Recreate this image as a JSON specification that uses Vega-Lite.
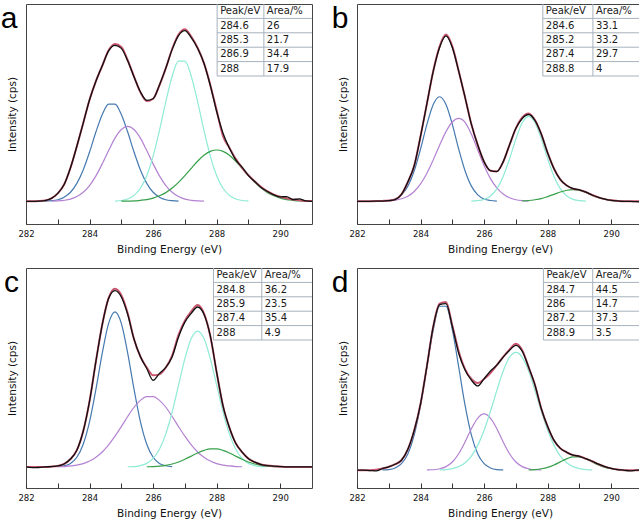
{
  "$schema": "https://vega.github.io/schema/vega-lite/v6.json",
  "padding": {"left": 0, "top": 3, "right": 0, "bottom": 0},
  "background": "white",
  "columns": 2,
  "spacing": {"row": 11, "column": 18},
  "datasets": {
    "a": [
      {"x":282,"d":0,"f":0},{"x":282.2,"d":0,"f":0},{"x":282.4,"d":0.001,"f":0.001},
      {"x":282.6,"b":0.001,"d":0.004,"f":0.004},
      {"x":282.8,"b":0.003,"m":0.001,"d":0.015,"f":0.015},
      {"x":283,"b":0.008,"m":0.002,"d":0.04,"f":0.04},
      {"x":283.2,"b":0.021,"m":0.005,"d":0.085,"f":0.085},
      {"x":283.4,"b":0.046,"m":0.011,"d":0.17,"f":0.17},
      {"x":283.6,"b":0.091,"m":0.024,"d":0.279,"f":0.279},
      {"x":283.8,"b":0.159,"m":0.046,"d":0.396,"f":0.396},
      {"x":284,"b":0.25,"m":0.08,"d":0.515,"f":0.515},
      {"x":284.2,"b":0.351,"m":0.129,"d":0.609,"f":0.609},
      {"x":284.4,"b":0.44,"m":0.19,"d":0.687,"f":0.687},
      {"x":284.6,"b":0.493,"m":0.257,"d":0.762,"f":0.765},
      {"x":284.8,"b":0.493,"m":0.32,"c":0.001,"d":0.79,"f":0.797},
      {"x":285,"b":0.44,"m":0.364,"c":0.004,"g":0.001,"d":0.775,"f":0.782},
      {"x":285.2,"b":0.351,"m":0.38,"c":0.012,"g":0.001,"d":0.712,"f":0.715},
      {"x":285.4,"b":0.25,"m":0.364,"c":0.03,"g":0.002,"d":0.63,"f":0.632},
      {"x":285.6,"b":0.159,"m":0.32,"c":0.066,"g":0.005,"d":0.555,"f":0.552},
      {"x":285.8,"b":0.091,"m":0.257,"c":0.13,"g":0.009,"d":0.512,"f":0.508},
      {"x":286,"b":0.046,"m":0.19,"c":0.229,"g":0.016,"d":0.52,"f":0.52},
      {"x":286.2,"b":0.021,"m":0.129,"c":0.36,"g":0.028,"d":0.59,"f":0.588},
      {"x":286.4,"b":0.008,"m":0.08,"c":0.505,"g":0.044,"d":0.675,"f":0.675},
      {"x":286.6,"b":0.003,"m":0.046,"c":0.634,"g":0.067,"d":0.77,"f":0.772},
      {"x":286.8,"b":0.001,"m":0.024,"c":0.71,"g":0.096,"d":0.84,"f":0.845},
      {"x":287,"m":0.011,"c":0.71,"g":0.13,"d":0.865,"f":0.872},
      {"x":287.2,"m":0.005,"c":0.634,"g":0.167,"d":0.83,"f":0.835},
      {"x":287.4,"m":0.002,"c":0.505,"g":0.203,"d":0.776,"f":0.778},
      {"x":287.6,"m":0.001,"c":0.36,"g":0.233,"d":0.7,"f":0.7},
      {"x":287.8,"c":0.229,"g":0.253,"d":0.587,"f":0.59},
      {"x":288,"c":0.13,"g":0.26,"d":0.455,"f":0.46},
      {"x":288.2,"c":0.066,"g":0.253,"d":0.345,"f":0.33},
      {"x":288.4,"c":0.03,"g":0.233,"d":0.27,"f":0.272},
      {"x":288.6,"c":0.012,"g":0.203,"d":0.21,"f":0.215},
      {"x":288.8,"c":0.004,"g":0.167,"d":0.173,"f":0.17},
      {"x":289,"c":0.001,"g":0.13,"d":0.13,"f":0.132},
      {"x":289.2,"g":0.096,"d":0.1,"f":0.1},
      {"x":289.4,"g":0.067,"d":0.07,"f":0.072},
      {"x":289.6,"g":0.044,"d":0.05,"f":0.05},
      {"x":289.8,"g":0.028,"d":0.033,"f":0.034},
      {"x":290,"g":0.016,"d":0.022,"f":0.023},
      {"x":290.2,"g":0.009,"d":0.024,"f":0.015},
      {"x":290.4,"g":0.005,"d":0.009,"f":0.009},
      {"x":290.6,"g":0.002,"d":0.012,"f":0.005},
      {"x":290.8,"g":0.001,"d":0.002,"f":0.002},
      {"x":291,"g":0.001,"d":0,"f":0.001}
    ],
    "b": [
      {"x":282,"d":0,"f":0},{"x":282.2,"d":0,"f":0},{"x":282.4,"d":0,"f":0},
      {"x":282.6,"d":0.001,"f":0.001},
      {"x":282.8,"b":0.001,"m":0.001,"d":0.001,"f":0.002},
      {"x":283,"b":0.004,"m":0.002,"d":0.003,"f":0.004},
      {"x":283.2,"b":0.012,"m":0.006,"d":0.008,"f":0.01},
      {"x":283.4,"b":0.033,"m":0.013,"d":0.035,"f":0.035},
      {"x":283.6,"b":0.077,"m":0.026,"d":0.098,"f":0.098},
      {"x":283.8,"b":0.155,"m":0.05,"d":0.18,"f":0.18},
      {"x":284,"b":0.265,"m":0.088,"d":0.33,"f":0.33},
      {"x":284.2,"b":0.39,"m":0.142,"d":0.495,"f":0.495},
      {"x":284.4,"b":0.491,"m":0.21,"d":0.66,"f":0.66},
      {"x":284.6,"b":0.53,"m":0.284,"d":0.78,"f":0.785},
      {"x":284.8,"b":0.491,"m":0.353,"d":0.838,"f":0.845},
      {"x":285,"b":0.39,"m":0.402,"d":0.78,"f":0.785},
      {"x":285.2,"b":0.265,"m":0.42,"d":0.66,"f":0.66},
      {"x":285.4,"b":0.155,"m":0.4,"d":0.527,"f":0.527},
      {"x":285.6,"b":0.077,"m":0.34,"c":0.001,"d":0.39,"f":0.39},
      {"x":285.8,"b":0.033,"m":0.26,"c":0.003,"d":0.285,"f":0.285},
      {"x":286,"b":0.012,"m":0.18,"c":0.01,"d":0.2,"f":0.2},
      {"x":286.2,"b":0.004,"m":0.115,"c":0.027,"d":0.155,"f":0.155},
      {"x":286.4,"b":0.001,"m":0.068,"c":0.063,"d":0.15,"f":0.152},
      {"x":286.6,"m":0.037,"c":0.126,"d":0.2,"f":0.2},
      {"x":286.8,"m":0.018,"c":0.215,"d":0.286,"f":0.286},
      {"x":287,"m":0.008,"c":0.316,"d":0.37,"f":0.37},
      {"x":287.2,"m":0.003,"c":0.398,"g":0.002,"d":0.42,"f":0.425},
      {"x":287.4,"m":0.001,"c":0.43,"g":0.004,"d":0.44,"f":0.445},
      {"x":287.6,"c":0.398,"g":0.008,"d":0.41,"f":0.412},
      {"x":287.8,"c":0.316,"g":0.014,"d":0.34,"f":0.34},
      {"x":288,"c":0.215,"g":0.024,"d":0.245,"f":0.245},
      {"x":288.2,"c":0.126,"g":0.035,"d":0.165,"f":0.165},
      {"x":288.4,"c":0.063,"g":0.047,"d":0.11,"f":0.11},
      {"x":288.6,"c":0.027,"g":0.056,"d":0.08,"f":0.08},
      {"x":288.8,"c":0.01,"g":0.059,"d":0.064,"f":0.064},
      {"x":289,"c":0.003,"g":0.055,"d":0.058,"f":0.058},
      {"x":289.2,"c":0.001,"g":0.045,"d":0.047,"f":0.047},
      {"x":289.4,"g":0.03,"d":0.032,"f":0.032},
      {"x":289.6,"g":0.019,"d":0.02,"f":0.02},
      {"x":289.8,"g":0.01,"d":0.011,"f":0.011},
      {"x":290,"g":0.005,"d":0.005,"f":0.005},
      {"x":290.2,"g":0.002,"d":0.002,"f":0.002},
      {"x":290.4,"g":0.001,"d":0,"f":0},
      {"x":290.6,"d":0,"f":0},
      {"x":290.8,"d":-0.002,"f":0},
      {"x":291,"d":-0.004,"f":0}
    ],
    "c": [
      {"x":282,"d":0,"f":0},{"x":282.2,"d":-0.004,"f":0},{"x":282.4,"d":-0.003,"f":0},
      {"x":282.6,"d":0,"f":0},
      {"x":282.8,"d":0.002,"f":0.002},
      {"x":283,"b":0.002,"m":0.001,"d":0.005,"f":0.005},
      {"x":283.2,"b":0.006,"m":0.002,"d":0.015,"f":0.015},
      {"x":283.4,"b":0.018,"m":0.005,"d":0.04,"f":0.04},
      {"x":283.6,"b":0.049,"m":0.009,"d":0.085,"f":0.085},
      {"x":283.8,"b":0.115,"m":0.017,"d":0.181,"f":0.181},
      {"x":284,"b":0.23,"m":0.03,"d":0.334,"f":0.334},
      {"x":284.2,"b":0.394,"m":0.049,"d":0.536,"f":0.536},
      {"x":284.4,"b":0.578,"m":0.076,"d":0.723,"f":0.723},
      {"x":284.6,"b":0.729,"m":0.112,"d":0.855,"f":0.858},
      {"x":284.8,"b":0.787,"m":0.156,"d":0.895,"f":0.905},
      {"x":285,"b":0.729,"m":0.205,"d":0.863,"f":0.872},
      {"x":285.2,"b":0.578,"m":0.256,"c":0.001,"d":0.775,"f":0.78},
      {"x":285.4,"b":0.394,"m":0.303,"c":0.002,"d":0.648,"f":0.648},
      {"x":285.6,"b":0.23,"m":0.338,"c":0.007,"d":0.56,"f":0.56},
      {"x":285.8,"b":0.115,"m":0.357,"c":0.018,"g":0.001,"d":0.5,"f":0.505},
      {"x":286,"b":0.049,"m":0.357,"c":0.043,"g":0.002,"d":0.44,"f":0.465},
      {"x":286.2,"b":0.018,"m":0.338,"c":0.09,"g":0.004,"d":0.475,"f":0.47},
      {"x":286.4,"b":0.006,"m":0.303,"c":0.168,"g":0.008,"d":0.505,"f":0.505},
      {"x":286.6,"b":0.002,"m":0.256,"c":0.279,"g":0.015,"d":0.56,"f":0.565},
      {"x":286.8,"m":0.205,"c":0.415,"g":0.025,"d":0.66,"f":0.67},
      {"x":287,"m":0.156,"c":0.55,"g":0.039,"d":0.735,"f":0.742},
      {"x":287.2,"m":0.112,"c":0.652,"g":0.055,"d":0.78,"f":0.79},
      {"x":287.4,"m":0.076,"c":0.69,"g":0.071,"d":0.812,"f":0.822},
      {"x":287.6,"m":0.049,"c":0.652,"g":0.084,"d":0.775,"f":0.78},
      {"x":287.8,"m":0.03,"c":0.55,"g":0.092,"d":0.665,"f":0.665},
      {"x":288,"m":0.017,"c":0.415,"g":0.092,"d":0.48,"f":0.48},
      {"x":288.2,"m":0.009,"c":0.279,"g":0.084,"d":0.31,"f":0.31},
      {"x":288.4,"m":0.005,"c":0.168,"g":0.071,"d":0.2,"f":0.2},
      {"x":288.6,"m":0.002,"c":0.09,"g":0.055,"d":0.12,"f":0.12},
      {"x":288.8,"m":0.001,"c":0.043,"g":0.039,"d":0.075,"f":0.075},
      {"x":289,"c":0.018,"g":0.025,"d":0.042,"f":0.042},
      {"x":289.2,"c":0.007,"g":0.015,"d":0.024,"f":0.024},
      {"x":289.4,"c":0.002,"g":0.008,"d":0.012,"f":0.012},
      {"x":289.6,"c":0.001,"g":0.004,"d":0.007,"f":0.007},
      {"x":289.8,"g":0.002,"d":0.004,"f":0.004},
      {"x":290,"g":0.001,"d":0.002,"f":0.002},
      {"x":290.2,"d":0,"f":0},{"x":290.4,"d":0,"f":0},{"x":290.6,"d":0,"f":0},
      {"x":290.8,"d":0,"f":0},{"x":291,"d":0,"f":0}
    ],
    "d": [
      {"x":282,"d":0,"f":0},{"x":282.2,"d":0,"f":0},{"x":282.4,"d":-0.002,"f":0},
      {"x":282.6,"d":-0.004,"f":0.002},
      {"x":282.8,"b":0.001,"d":0.008,"f":0.008},
      {"x":283,"b":0.003,"d":0.017,"f":0.017},
      {"x":283.2,"b":0.011,"d":0.03,"f":0.03},
      {"x":283.4,"b":0.033,"d":0.05,"f":0.05},
      {"x":283.6,"b":0.082,"d":0.105,"f":0.105},
      {"x":283.8,"b":0.177,"d":0.2,"f":0.2},
      {"x":284,"b":0.328,"d":0.335,"f":0.335},
      {"x":284.2,"b":0.521,"m":0.001,"d":0.525,"f":0.525},
      {"x":284.4,"b":0.709,"m":0.002,"d":0.725,"f":0.725},
      {"x":284.6,"b":0.827,"m":0.007,"c":0.001,"d":0.835,"f":0.84},
      {"x":284.8,"b":0.827,"m":0.018,"c":0.003,"d":0.84,"f":0.848},
      {"x":285,"b":0.709,"m":0.041,"c":0.008,"d":0.725,"f":0.73},
      {"x":285.2,"b":0.521,"m":0.083,"c":0.018,"d":0.59,"f":0.6},
      {"x":285.4,"b":0.328,"m":0.142,"c":0.037,"d":0.505,"f":0.51},
      {"x":285.6,"b":0.177,"m":0.209,"c":0.071,"d":0.454,"f":0.46},
      {"x":285.8,"b":0.082,"m":0.263,"c":0.125,"d":0.425,"f":0.44},
      {"x":286,"b":0.033,"m":0.284,"c":0.201,"d":0.462,"f":0.46},
      {"x":286.2,"b":0.011,"m":0.263,"c":0.297,"d":0.5,"f":0.49},
      {"x":286.4,"b":0.003,"m":0.209,"c":0.402,"d":0.53,"f":0.53},
      {"x":286.6,"b":0.001,"m":0.142,"c":0.5,"d":0.57,"f":0.572},
      {"x":286.8,"m":0.083,"c":0.569,"d":0.605,"f":0.608},
      {"x":287,"m":0.041,"c":0.594,"d":0.63,"f":0.638},
      {"x":287.2,"m":0.018,"c":0.569,"d":0.6,"f":0.605},
      {"x":287.4,"m":0.007,"c":0.5,"g":0.001,"d":0.52,"f":0.52},
      {"x":287.6,"m":0.002,"c":0.402,"g":0.003,"d":0.43,"f":0.43},
      {"x":287.8,"m":0.001,"c":0.297,"g":0.007,"d":0.31,"f":0.31},
      {"x":288,"c":0.201,"g":0.014,"d":0.22,"f":0.22},
      {"x":288.2,"c":0.125,"g":0.026,"d":0.15,"f":0.15},
      {"x":288.4,"c":0.071,"g":0.042,"d":0.11,"f":0.11},
      {"x":288.6,"c":0.037,"g":0.057,"d":0.09,"f":0.09},
      {"x":288.8,"c":0.018,"g":0.067,"d":0.076,"f":0.076},
      {"x":289,"c":0.008,"g":0.067,"d":0.07,"f":0.07},
      {"x":289.2,"c":0.003,"g":0.057,"d":0.058,"f":0.058},
      {"x":289.4,"c":0.001,"g":0.042,"d":0.045,"f":0.045},
      {"x":289.6,"g":0.026,"d":0.03,"f":0.03},
      {"x":289.8,"g":0.014,"d":0.018,"f":0.018},
      {"x":290,"g":0.007,"d":0.009,"f":0.009},
      {"x":290.2,"g":0.003,"d":0.003,"f":0.003},
      {"x":290.4,"g":0.001,"d":0,"f":0},
      {"x":290.6,"d":-0.004,"f":0},
      {"x":290.8,"d":0,"f":0},{"x":291,"d":0,"f":0}
    ],
    "ta": [
      {"p":"a","r":0,"k":0,"t":"Peak/eV"},{"p":"a","r":0,"k":1,"t":"Area/%"},
      {"p":"a","r":1,"k":0,"t":"284.6"},{"p":"a","r":1,"k":1,"t":"26"},
      {"p":"a","r":2,"k":0,"t":"285.3"},{"p":"a","r":2,"k":1,"t":"21.7"},
      {"p":"a","r":3,"k":0,"t":"286.9"},{"p":"a","r":3,"k":1,"t":"34.4"},
      {"p":"a","r":4,"k":0,"t":"288"},{"p":"a","r":4,"k":1,"t":"17.9"},
      {"p":"b","r":0,"k":0,"t":"Peak/eV"},{"p":"b","r":0,"k":1,"t":"Area/%"},
      {"p":"b","r":1,"k":0,"t":"284.6"},{"p":"b","r":1,"k":1,"t":"33.1"},
      {"p":"b","r":2,"k":0,"t":"285.2"},{"p":"b","r":2,"k":1,"t":"33.2"},
      {"p":"b","r":3,"k":0,"t":"287.4"},{"p":"b","r":3,"k":1,"t":"29.7"},
      {"p":"b","r":4,"k":0,"t":"288.8"},{"p":"b","r":4,"k":1,"t":"4"},
      {"p":"c","r":0,"k":0,"t":"Peak/eV"},{"p":"c","r":0,"k":1,"t":"Area/%"},
      {"p":"c","r":1,"k":0,"t":"284.8"},{"p":"c","r":1,"k":1,"t":"36.2"},
      {"p":"c","r":2,"k":0,"t":"285.9"},{"p":"c","r":2,"k":1,"t":"23.5"},
      {"p":"c","r":3,"k":0,"t":"287.4"},{"p":"c","r":3,"k":1,"t":"35.4"},
      {"p":"c","r":4,"k":0,"t":"288"},{"p":"c","r":4,"k":1,"t":"4.9"},
      {"p":"d","r":0,"k":0,"t":"Peak/eV"},{"p":"d","r":0,"k":1,"t":"Area/%"},
      {"p":"d","r":1,"k":0,"t":"284.7"},{"p":"d","r":1,"k":1,"t":"44.5"},
      {"p":"d","r":2,"k":0,"t":"286"},{"p":"d","r":2,"k":1,"t":"14.7"},
      {"p":"d","r":3,"k":0,"t":"287.2"},{"p":"d","r":3,"k":1,"t":"37.3"},
      {"p":"d","r":4,"k":0,"t":"288.9"},{"p":"d","r":4,"k":1,"t":"3.5"}
    ]
  },
  "concat": [
    {
      "width": 286, "height": 220,
      "title": {"text": "a"},
      "layer": [
        {
          "data": {"name": "a"},
          "encoding": {
            "x": {"field": "x", "type": "quantitative", "scale": {"domain": [282, 291], "nice": false, "zero": false}, "axis": {"title": "Binding Energy (eV)", "values": [282,283,284,285,286,287,288,289,290]}},
            "y": {"field": "v", "type": "quantitative", "scale": {"domain": [-0.115, 1], "nice": false, "zero": false}, "axis": {"title": "Intensity (cps)"}}
          },
          "layer": [
            {"transform": [{"fold": ["b","m","c","g"], "as": ["s","v"]}],
             "mark": {"type": "line", "strokeWidth": 1.2, "interpolate": "monotone", "clip": true},
             "encoding": {"color": {"field": "s", "type": "nominal", "scale": {"domain": ["b","m","c","g"], "range": ["#4679b0","#b482d2","#8fead6","#36a049"]}, "legend": null}}},
            {"transform": [{"fold": ["f"], "as": ["s","v"]}],
             "mark": {"type": "line", "strokeWidth": 2, "color": "#c9566f", "interpolate": "monotone", "clip": true}},
            {"transform": [{"fold": ["d"], "as": ["s","v"]}],
             "mark": {"type": "line", "strokeWidth": 1.3, "color": "#111111", "interpolate": "monotone", "clip": true}}
          ]
        },
        {
          "data": {"name": "ta"},
          "transform": [{"filter": "datum.p === 'a'"}],
          "layer": [
            {"transform": [{"filter": "datum.k === 0"}],
             "mark": {"type": "rule", "color": "#a7b2bd", "strokeWidth": 1, "yOffset": 7.2},
             "encoding": {
               "y": {"field": "r", "type": "quantitative", "scale": {"domain": [-0.5, 14.78], "reverse": true, "nice": false, "zero": false}, "axis": null},
               "x": {"datum": 0, "type": "quantitative", "scale": {"domain": [-4.09, 2.03], "nice": false, "zero": false}, "axis": null},
               "x2": {"datum": 2.03}}},
            {"transform": [{"filter": "datum.r === 0"}],
             "mark": {"type": "rule", "color": "#a7b2bd", "strokeWidth": 1},
             "encoding": {
               "x": {"field": "k", "type": "quantitative", "scale": {"domain": [-4.09, 2.03], "nice": false, "zero": false}, "axis": null},
               "y": {"datum": -0.5, "type": "quantitative", "scale": {"domain": [-0.5, 14.78], "reverse": true, "nice": false, "zero": false}, "axis": null},
               "y2": {"datum": 4.5}}},
            {"mark": {"type": "text", "align": "left", "baseline": "middle", "dx": 3, "font": "DejaVu Sans", "fontSize": 10, "color": "#1a1a1a"},
             "encoding": {
               "x": {"field": "k", "type": "quantitative", "scale": {"domain": [-4.09, 2.03], "nice": false, "zero": false}, "axis": null},
               "y": {"field": "r", "type": "quantitative", "scale": {"domain": [-0.5, 14.78], "reverse": true, "nice": false, "zero": false}, "axis": null},
               "text": {"field": "t", "type": "nominal"}}}
          ]
        }
      ],
      "resolve": {"scale": {"x": "independent", "y": "independent"}}
    },
    {
      "width": 286, "height": 220,
      "title": {"text": "b"},
      "layer": [
        {
          "data": {"name": "b"},
          "encoding": {
            "x": {"field": "x", "type": "quantitative", "scale": {"domain": [282, 291], "nice": false, "zero": false}, "axis": {"title": "Binding Energy (eV)", "values": [282,283,284,285,286,287,288,289,290]}},
            "y": {"field": "v", "type": "quantitative", "scale": {"domain": [-0.115, 1], "nice": false, "zero": false}, "axis": {"title": "Intensity (cps)"}}
          },
          "layer": [
            {"transform": [{"fold": ["b","m","c","g"], "as": ["s","v"]}],
             "mark": {"type": "line", "strokeWidth": 1.2, "interpolate": "monotone", "clip": true},
             "encoding": {"color": {"field": "s", "type": "nominal", "scale": {"domain": ["b","m","c","g"], "range": ["#4679b0","#b482d2","#8fead6","#36a049"]}, "legend": null}}},
            {"transform": [{"fold": ["f"], "as": ["s","v"]}],
             "mark": {"type": "line", "strokeWidth": 2, "color": "#c9566f", "interpolate": "monotone", "clip": true}},
            {"transform": [{"fold": ["d"], "as": ["s","v"]}],
             "mark": {"type": "line", "strokeWidth": 1.3, "color": "#111111", "interpolate": "monotone", "clip": true}}
          ]
        },
        {
          "data": {"name": "ta"},
          "transform": [{"filter": "datum.p === 'b'"}],
          "layer": [
            {"transform": [{"filter": "datum.k === 0"}],
             "mark": {"type": "rule", "color": "#a7b2bd", "strokeWidth": 1, "yOffset": 7.2},
             "encoding": {
               "y": {"field": "r", "type": "quantitative", "scale": {"domain": [-0.5, 14.78], "reverse": true, "nice": false, "zero": false}, "axis": null},
               "x": {"datum": 0, "type": "quantitative", "scale": {"domain": [-3.71, 2.0], "nice": false, "zero": false}, "axis": null},
               "x2": {"datum": 2.0}}},
            {"transform": [{"filter": "datum.r === 0"}],
             "mark": {"type": "rule", "color": "#a7b2bd", "strokeWidth": 1},
             "encoding": {
               "x": {"field": "k", "type": "quantitative", "scale": {"domain": [-3.71, 2.0], "nice": false, "zero": false}, "axis": null},
               "y": {"datum": -0.5, "type": "quantitative", "scale": {"domain": [-0.5, 14.78], "reverse": true, "nice": false, "zero": false}, "axis": null},
               "y2": {"datum": 4.5}}},
            {"mark": {"type": "text", "align": "left", "baseline": "middle", "dx": 3, "font": "DejaVu Sans", "fontSize": 10, "color": "#1a1a1a"},
             "encoding": {
               "x": {"field": "k", "type": "quantitative", "scale": {"domain": [-3.71, 2.0], "nice": false, "zero": false}, "axis": null},
               "y": {"field": "r", "type": "quantitative", "scale": {"domain": [-0.5, 14.78], "reverse": true, "nice": false, "zero": false}, "axis": null},
               "text": {"field": "t", "type": "nominal"}}}
          ]
        }
      ],
      "resolve": {"scale": {"x": "independent", "y": "independent"}}
    },
    {
      "width": 286, "height": 220,
      "title": {"text": "c"},
      "layer": [
        {
          "data": {"name": "c"},
          "encoding": {
            "x": {"field": "x", "type": "quantitative", "scale": {"domain": [282, 291], "nice": false, "zero": false}, "axis": {"title": "Binding Energy (eV)", "values": [282,283,284,285,286,287,288,289,290]}},
            "y": {"field": "v", "type": "quantitative", "scale": {"domain": [-0.107, 1.01], "nice": false, "zero": false}, "axis": {"title": "Intensity (cps)"}}
          },
          "layer": [
            {"transform": [{"fold": ["b","m","c","g"], "as": ["s","v"]}],
             "mark": {"type": "line", "strokeWidth": 1.2, "interpolate": "monotone", "clip": true},
             "encoding": {"color": {"field": "s", "type": "nominal", "scale": {"domain": ["b","m","c","g"], "range": ["#4679b0","#b482d2","#8fead6","#36a049"]}, "legend": null}}},
            {"transform": [{"fold": ["f"], "as": ["s","v"]}],
             "mark": {"type": "line", "strokeWidth": 2, "color": "#c9566f", "interpolate": "monotone", "clip": true}},
            {"transform": [{"fold": ["d"], "as": ["s","v"]}],
             "mark": {"type": "line", "strokeWidth": 1.3, "color": "#111111", "interpolate": "monotone", "clip": true}}
          ]
        },
        {
          "data": {"name": "ta"},
          "transform": [{"filter": "datum.p === 'c'"}],
          "layer": [
            {"transform": [{"filter": "datum.k === 0"}],
             "mark": {"type": "rule", "color": "#a7b2bd", "strokeWidth": 1, "yOffset": 7.2},
             "encoding": {
               "y": {"field": "r", "type": "quantitative", "scale": {"domain": [-0.5, 14.78], "reverse": true, "nice": false, "zero": false}, "axis": null},
               "x": {"datum": 0, "type": "quantitative", "scale": {"domain": [-3.88, 2.04], "nice": false, "zero": false}, "axis": null},
               "x2": {"datum": 2.04}}},
            {"transform": [{"filter": "datum.r === 0"}],
             "mark": {"type": "rule", "color": "#a7b2bd", "strokeWidth": 1},
             "encoding": {
               "x": {"field": "k", "type": "quantitative", "scale": {"domain": [-3.88, 2.04], "nice": false, "zero": false}, "axis": null},
               "y": {"datum": -0.5, "type": "quantitative", "scale": {"domain": [-0.5, 14.78], "reverse": true, "nice": false, "zero": false}, "axis": null},
               "y2": {"datum": 4.5}}},
            {"mark": {"type": "text", "align": "left", "baseline": "middle", "dx": 3, "font": "DejaVu Sans", "fontSize": 10, "color": "#1a1a1a"},
             "encoding": {
               "x": {"field": "k", "type": "quantitative", "scale": {"domain": [-3.88, 2.04], "nice": false, "zero": false}, "axis": null},
               "y": {"field": "r", "type": "quantitative", "scale": {"domain": [-0.5, 14.78], "reverse": true, "nice": false, "zero": false}, "axis": null},
               "text": {"field": "t", "type": "nominal"}}}
          ]
        }
      ],
      "resolve": {"scale": {"x": "independent", "y": "independent"}}
    },
    {
      "width": 286, "height": 220,
      "title": {"text": "d"},
      "layer": [
        {
          "data": {"name": "d"},
          "encoding": {
            "x": {"field": "x", "type": "quantitative", "scale": {"domain": [282, 291], "nice": false, "zero": false}, "axis": {"title": "Binding Energy (eV)", "values": [282,283,284,285,286,287,288,289,290]}},
            "y": {"field": "v", "type": "quantitative", "scale": {"domain": [-0.09, 1.02], "nice": false, "zero": false}, "axis": {"title": "Intensity (cps)"}}
          },
          "layer": [
            {"transform": [{"fold": ["b","m","c","g"], "as": ["s","v"]}],
             "mark": {"type": "line", "strokeWidth": 1.2, "interpolate": "monotone", "clip": true},
             "encoding": {"color": {"field": "s", "type": "nominal", "scale": {"domain": ["b","m","c","g"], "range": ["#4679b0","#b482d2","#8fead6","#36a049"]}, "legend": null}}},
            {"transform": [{"fold": ["f"], "as": ["s","v"]}],
             "mark": {"type": "line", "strokeWidth": 2, "color": "#c9566f", "interpolate": "monotone", "clip": true}},
            {"transform": [{"fold": ["d"], "as": ["s","v"]}],
             "mark": {"type": "line", "strokeWidth": 1.3, "color": "#111111", "interpolate": "monotone", "clip": true}}
          ]
        },
        {
          "data": {"name": "ta"},
          "transform": [{"filter": "datum.p === 'd'"}],
          "layer": [
            {"transform": [{"filter": "datum.k === 0"}],
             "mark": {"type": "rule", "color": "#a7b2bd", "strokeWidth": 1, "yOffset": 7.2},
             "encoding": {
               "y": {"field": "r", "type": "quantitative", "scale": {"domain": [-0.5, 14.78], "reverse": true, "nice": false, "zero": false}, "axis": null},
               "x": {"datum": 0, "type": "quantitative", "scale": {"domain": [-3.78, 2.02], "nice": false, "zero": false}, "axis": null},
               "x2": {"datum": 2.02}}},
            {"transform": [{"filter": "datum.r === 0"}],
             "mark": {"type": "rule", "color": "#a7b2bd", "strokeWidth": 1},
             "encoding": {
               "x": {"field": "k", "type": "quantitative", "scale": {"domain": [-3.78, 2.02], "nice": false, "zero": false}, "axis": null},
               "y": {"datum": -0.5, "type": "quantitative", "scale": {"domain": [-0.5, 14.78], "reverse": true, "nice": false, "zero": false}, "axis": null},
               "y2": {"datum": 4.5}}},
            {"mark": {"type": "text", "align": "left", "baseline": "middle", "dx": 3, "font": "DejaVu Sans", "fontSize": 10, "color": "#1a1a1a"},
             "encoding": {
               "x": {"field": "k", "type": "quantitative", "scale": {"domain": [-3.78, 2.02], "nice": false, "zero": false}, "axis": null},
               "y": {"field": "r", "type": "quantitative", "scale": {"domain": [-0.5, 14.78], "reverse": true, "nice": false, "zero": false}, "axis": null},
               "text": {"field": "t", "type": "nominal"}}}
          ]
        }
      ],
      "resolve": {"scale": {"x": "independent", "y": "independent"}}
    }
  ],
  "config": {
    "view": {"stroke": "#454545", "strokeWidth": 1},
    "font": "DejaVu Sans",
    "axis": {"grid": false, "domain": false, "titleFont": "DejaVu Sans", "titleFontSize": 10.5, "titleFontWeight": "normal", "titleColor": "#111111", "labelFont": "DejaVu Sans", "labelFontSize": 8.5, "labelColor": "#111111"},
    "axisX": {"labelExpr": "datum.value % 2 === 0 ? datum.label : ''", "tickSize": -5, "tickColor": "#333333", "labelPadding": 10, "titlePadding": 7, "labelFlush": false, "labelOverlap": false},
    "axisY": {"ticks": false, "labels": false, "titlePadding": 9},
    "title": {"orient": "left", "anchor": "end", "frame": "group", "angle": 0, "align": "left", "baseline": "top", "offset": -27, "font": "Liberation Sans", "fontSize": 30, "fontWeight": "normal", "color": "#000000"}
  }
}
